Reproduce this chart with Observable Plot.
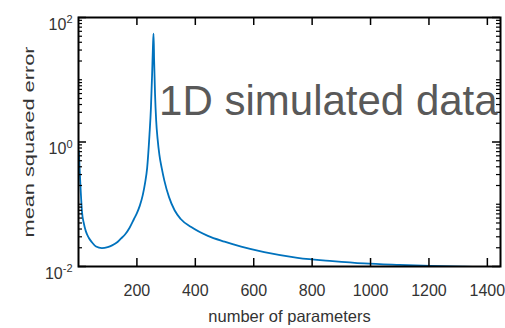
<!DOCTYPE html>
<html><head><meta charset="utf-8">
<script src="https://cdn.jsdelivr.net/npm/d3@7"></script>
<script src="https://cdn.jsdelivr.net/npm/@observablehq/plot@0.6"></script>
<style>html,body{margin:0;padding:0;background:#fff;} svg{display:block;}</style>
</head><body>
<script>
// ---- data ----
const nParams = [1, 4, 8, 12, 18, 25, 35, 46, 60, 80, 100, 115, 130, 145, 160, 175, 190, 200, 210, 220, 228, 235, 243, 248, 252, 255, 257, 259, 262, 266, 271, 277, 285, 294, 310, 329, 350, 386, 443, 500, 557, 636, 750, 870, 978, 1100, 1206, 1320, 1445];
const mseValues = [0.72, 0.35, 0.15, 0.075, 0.05, 0.037, 0.029, 0.0245, 0.021, 0.0198, 0.0205, 0.0218, 0.024, 0.028, 0.033, 0.042, 0.058, 0.072, 0.095, 0.14, 0.22, 0.38, 1.3, 3.5, 12, 35, 55, 20, 6, 2.2, 1.1, 0.62, 0.38, 0.24, 0.13, 0.08, 0.058, 0.043, 0.031, 0.025, 0.0208, 0.017, 0.0138, 0.0122, 0.0112, 0.0106, 0.0102, 0.0099, 0.0097];
const xTicks = [200, 400, 600, 800, 1000, 1200, 1400];
const yTicks = [0.01, 1, 100];
const yTickBase = ["10", "10", "10"];
const yTickExp = ["-2", "0", "2"];
const yMinorTicks = [0.02, 0.03, 0.04, 0.05, 0.06, 0.07, 0.08, 0.09, 0.1, 0.2, 0.3, 0.4, 0.5, 0.6, 0.7, 0.8, 0.9, 2, 3, 4, 5, 6, 7, 8, 9, 10, 20, 30, 40, 50, 60, 70, 80, 90];
const xLabel = "number of parameters";
const yLabel = "mean squared error";
const annotation = "1D simulated data";

const rows = nParams.map((n, i) => ({n, mse: mseValues[i]}));
const font = "'Liberation Sans', Arial, Helvetica, sans-serif";
const W = 505, H = 328, ML = 78, MR = 5, MT = 17, MB = 62;
const fw = W - ML - MR, fh = H - MT - MB;

const chart = Plot.plot({
  width: W, height: H,
  marginLeft: ML, marginRight: MR, marginTop: MT, marginBottom: MB,
  style: {fontFamily: font, background: "#fff", overflow: "visible"},
  x: {type: "linear", domain: [0, 1445]},
  y: {type: "log", domain: [0.01, 100]},
  marks: [
    Plot.line(rows, {x: "n", y: "mse", stroke: "#0072BD", strokeWidth: 1.8, curve: "monotone-x", clip: true}),
    // inward ticks (bottom / top)
    Plot.tickX(xTicks, {x: d => d, stroke: "#000", strokeWidth: 1.5, insetTop: fh - 8}),
    Plot.tickX(xTicks, {x: d => d, stroke: "#000", strokeWidth: 1.5, insetBottom: fh - 8}),
    // inward ticks (left / right)
    Plot.tickY(yTicks, {y: d => d, stroke: "#000", strokeWidth: 1.5, insetRight: fw - 8}),
    Plot.tickY(yTicks, {y: d => d, stroke: "#000", strokeWidth: 1.5, insetLeft: fw - 8}),
    Plot.tickY(yMinorTicks, {y: d => d, stroke: "#000", strokeWidth: 1.2, insetRight: fw - 4}),
    Plot.tickY(yMinorTicks, {y: d => d, stroke: "#000", strokeWidth: 1.2, insetLeft: fw - 4}),
    Plot.frame({stroke: "#000", strokeWidth: 2}),
    Plot.axisX(xTicks, {tickSize: 0, tickPadding: 18, fontSize: 16, fill: "#333", label: null, tickFormat: d => String(d)}),
    Plot.axisY(yTicks, {tickSize: 0, tickPadding: 6, fontSize: 16, fill: "#333", label: null, dy: 7,
      tickFormat: d => yTickBase[yTicks.indexOf(d)]}),
    Plot.text([xLabel], {frameAnchor: "bottom", dy: 55, fontSize: 16.5, fill: "#333", text: d => d}),
    Plot.text([yLabel], {frameAnchor: "left", textAnchor: "middle", dx: -49, rotate: -90, fontSize: 15, fill: "#333", text: d => d}),
    Plot.text([annotation], {x: () => 276, y: () => 4.5, textAnchor: "start", fontSize: 42, fill: "#595959", text: d => d})
  ]
});
document.body.appendChild(chart);

const svg = d3.select(chart);
svg.selectAll('g[aria-label="y-axis tick label"] text').each(function(d, i) {
  const idx = typeof d === "number" && d < yTicks.length ? d : i;
  d3.select(this).append("tspan").attr("font-size", 11).attr("dy", "-0.6em").text(yTickExp[idx]);
});
svg.selectAll("text").filter(function() { return this.textContent === yLabel; })
  .each(function() {
    const len = this.getComputedTextLength();
    const t = this.getAttribute("transform") || "";
    if (len > 0) this.setAttribute("transform", t + ` scale(${191 / len},1)`);
  });
</script>
</body></html>
